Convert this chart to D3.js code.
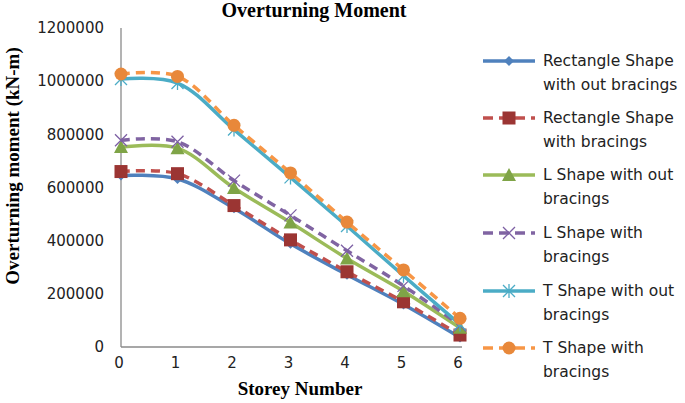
<!DOCTYPE html>
<html>
<head>
<meta charset="utf-8">
<script src="https://cdn.jsdelivr.net/npm/d3@7"></script>
<style>
  body { margin: 0; background: #fff; }
  svg { display: block; }
</style>
</head>
<body>
<div id="chart"></div>
<script>
// storey numbers on the x axis
var storeys = [0, 1, 2, 3, 4, 5, 6];
var yTicks = [0, 200000, 400000, 600000, 800000, 1000000, 1200000];

// overturning moment per storey (kN-m)
var rectNoBrace = [645000, 632000, 522000, 388000, 272000, 160000, 36000];
var rectBrace   = [660000, 652000, 532000, 403000, 283000, 170000, 45000];
var lNoBrace    = [752000, 748000, 598000, 468000, 333000, 210000, 72000];
var lBrace      = [778000, 772000, 626000, 495000, 362000, 230000, 82000];
var tNoBrace    = [1008000, 993000, 818000, 638000, 455000, 268000, 85000];
var tBrace      = [1027000, 1018000, 834000, 655000, 470000, 290000, 108000];

var seriesNames = [
    ["Rectangle Shape", "with out bracings"],
    ["Rectangle Shape", "with bracings"],
    ["L Shape with out", "bracings"],
    ["L Shape with", "bracings"],
    ["T Shape with out", "bracings"],
    ["T Shape with", "bracings"]
];

var attrs = {
    width: 685,
    height: 403,
    left: 121,
    right: 460,
    top: 28,
    bottom: 347,
    lineWidth: 3.5
};

var series = [
    { name: seriesNames[0], values: rectNoBrace, color: "#4F81BD", mark: "#4F81BD", dash: null, marker: "diamond" },
    { name: seriesNames[1], values: rectBrace,   color: "#C0504D", mark: "#9B3533", dash: "9,6", marker: "square" },
    { name: seriesNames[2], values: lNoBrace,    color: "#9BBB59", mark: "#7FA447", dash: null, marker: "triangle" },
    { name: seriesNames[3], values: lBrace,      color: "#8064A2", mark: "#7D60A4", dash: "9,6", marker: "x" },
    { name: seriesNames[4], values: tNoBrace,    color: "#4BACC6", mark: "#4BACC6", dash: null, marker: "star" },
    { name: seriesNames[5], values: tBrace,      color: "#F79646", mark: "#E8883A", dash: "9,6", marker: "circle" }
];

var svg = d3.select("#chart").append("svg")
    .attr("width", attrs.width)
    .attr("height", attrs.height);

var x = d3.scaleLinear().domain([0, 6]).range([attrs.left, attrs.right]);
var y = d3.scaleLinear().domain([0, 1200000]).range([attrs.bottom, attrs.top]);

// axes
svg.append("line")
    .attr("x1", x(0)).attr("x2", x(6) + 2)
    .attr("y1", y(0)).attr("y2", y(0))
    .attr("stroke", "#8a8a8a").attr("stroke-width", 1.3);
svg.append("line")
    .attr("x1", x(0)).attr("x2", x(0))
    .attr("y1", y(0)).attr("y2", y(1200000))
    .attr("stroke", "#8a8a8a").attr("stroke-width", 1.3);

svg.selectAll(".ytick").data(yTicks).enter().append("text")
    .attr("class", "ytick")
    .attr("x", 104)
    .attr("y", function(d){ return y(d); })
    .attr("dy", "0.35em")
    .attr("text-anchor", "end")
    .style("font-family", "DejaVu Sans")
    .style("font-size", "15px")
    .style("fill", "#222")
    .text(function(d){ return d; });

svg.selectAll(".xtick").data(storeys).enter().append("text")
    .attr("class", "xtick")
    .attr("x", function(d){ return x(d) - 2; })
    .attr("y", 368)
    .attr("text-anchor", "middle")
    .style("font-family", "DejaVu Sans")
    .style("font-size", "15px")
    .style("fill", "#222")
    .text(function(d){ return d; });

// titles
svg.append("text")
    .attr("x", 314).attr("y", 17)
    .attr("text-anchor", "middle")
    .style("font-family", "Liberation Serif").style("font-weight", "bold")
    .style("font-size", "20px")
    .text("Overturning Moment");

svg.append("text")
    .attr("x", 300).attr("y", 395)
    .attr("text-anchor", "middle")
    .style("font-family", "Liberation Serif").style("font-weight", "bold")
    .style("font-size", "19px")
    .text("Storey Number");

svg.append("text")
    .attr("transform", "translate(19,166) rotate(-90)")
    .attr("text-anchor", "middle")
    .style("font-family", "Liberation Serif").style("font-weight", "bold")
    .style("font-size", "19px")
    .text("Overturning moment (kN-m)");

function drawMarker(g, type, cx, cy, color) {
    if (type === "diamond") {
        g.append("path").attr("d", "M0,-5L5,0L0,5L-5,0Z")
            .attr("transform", "translate(" + cx + "," + cy + ")").attr("fill", color);
    } else if (type === "square") {
        g.append("rect").attr("x", cx - 6.5).attr("y", cy - 6.5)
            .attr("width", 13).attr("height", 13).attr("fill", color);
    } else if (type === "triangle") {
        g.append("path").attr("d", "M0,-7L7,6L-7,6Z")
            .attr("transform", "translate(" + cx + "," + cy + ")").attr("fill", color);
    } else if (type === "x") {
        g.append("path").attr("d", "M-6,-6L6,6M-6,6L6,-6")
            .attr("transform", "translate(" + cx + "," + cy + ")")
            .attr("stroke", color).attr("stroke-width", 1.3).attr("fill", "none");
    } else if (type === "star") {
        g.append("path").attr("d", "M-6,-6L6,6M-6,6L6,-6M0,-7L0,7")
            .attr("transform", "translate(" + cx + "," + cy + ")")
            .attr("stroke", color).attr("stroke-width", 1.3).attr("fill", "none");
    } else if (type === "circle") {
        g.append("circle").attr("cx", cx).attr("cy", cy).attr("r", 6.5).attr("fill", color);
    }
}

var line = d3.line()
    .x(function(d, i){ return x(storeys[i]); })
    .y(function(d){ return y(d); })
    .curve(d3.curveCatmullRom.alpha(0.5));

series.forEach(function(s){
    var g = svg.append("g");
    g.append("path")
        .attr("d", line(s.values))
        .attr("fill", "none")
        .attr("stroke", s.color)
        .attr("stroke-width", attrs.lineWidth)
        .attr("stroke-dasharray", s.dash);
    s.values.forEach(function(v, i){
        drawMarker(g, s.marker, x(storeys[i]), y(v), s.mark);
    });
});

// legend
var legendY = [61, 118, 175, 233, 291, 348];
series.forEach(function(s, i){
    var g = svg.append("g").attr("transform", "translate(0," + legendY[i] + ")");
    g.append("line")
        .attr("x1", 483).attr("x2", 535).attr("y1", 0).attr("y2", 0)
        .attr("stroke", s.color).attr("stroke-width", attrs.lineWidth)
        .attr("stroke-dasharray", s.dash ? "10,6" : null);
    drawMarker(g, s.marker, 509, 0, s.mark);
    s.name.forEach(function(t, j){
        g.append("text")
            .attr("x", 543).attr("y", j * 24)
            .attr("dy", "0.35em")
            .style("font-family", "DejaVu Sans")
            .style("font-size", "15.5px")
            .style("fill", "#222")
            .text(t);
    });
});
</script>
</body>
</html>
